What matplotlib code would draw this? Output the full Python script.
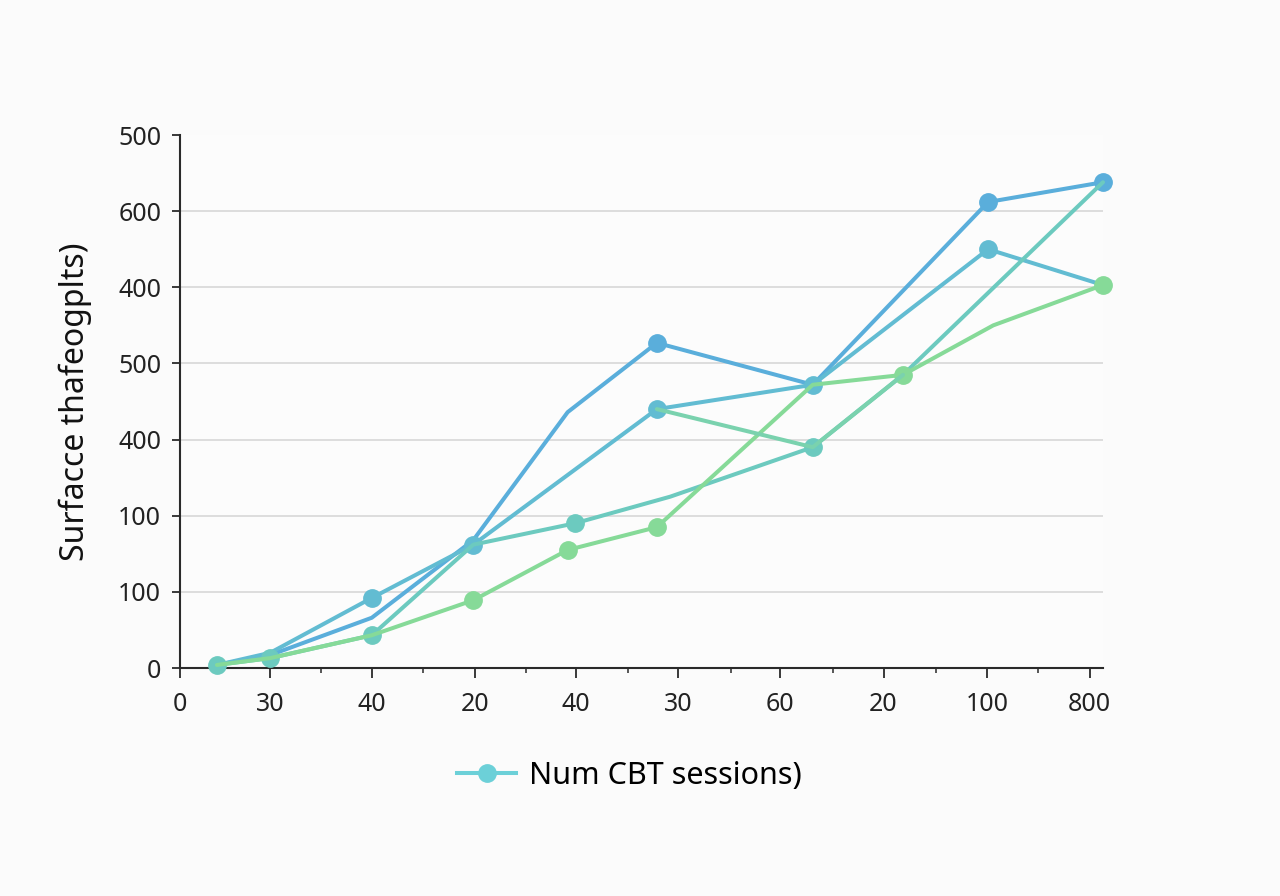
import matplotlib
matplotlib.use("Agg")
from matplotlib import pyplot as plt
from matplotlib.lines import Line2D

# Axis tick layout (labels as printed in the chart)
x_tick_pos = [0, 0.88, 1.87, 2.88, 3.86, 4.86, 5.85, 6.86, 7.87, 8.87]
x_tick_labels = ["0", "30", "40", "20", "40", "30", "60", "20", "100", "800"]
x_minor_pos = [0.37, 1.37, 2.37, 3.37, 4.37, 5.37, 6.37, 7.37, 8.37]
y_tick_pos = [0, 100, 200, 300, 400, 500, 600, 700]
y_tick_labels = ["0", "100", "100", "400", "500", "400", "600", "500"]

# Series values
a_x = [0.36, 0.88, 1.87, 2.86, 3.78, 4.65, 6.17, 7.88, 9.0]
a_y = [4, 17, 66, 168, 336, 427, 372, 612, 638]
a_marks = [5, 7, 8]

b_x = [0.36, 0.88, 1.87, 2.86, 4.65, 6.17, 7.88, 9.0]
b_y = [4, 20, 92, 162, 340, 372, 550, 503]
b_marks = [2, 3, 4, 5, 6]

c_x = [0.36, 0.88, 1.87, 2.86, 3.85, 4.78, 6.17, 7.05, 9.0]
c_y = [4, 13, 43, 162, 190, 225, 290, 385, 638]
c_marks = [0, 1, 2, 4, 6]

d_x = [0.36, 0.88, 1.87, 2.86, 3.78, 4.65, 6.17, 7.05, 7.93, 9.0]
d_y = [4, 13, 43, 89, 155, 185, 372, 385, 450, 503]
d_marks = [3, 4, 5, 7, 9]

e_x = [4.65, 6.17, 7.05]
e_y = [340, 290, 385]

series = [
    (a_x, a_y, a_marks, "#5aaedb"),
    (b_x, b_y, b_marks, "#62bcd2"),
    (c_x, c_y, c_marks, "#6ccabf"),
    (d_x, d_y, d_marks, "#86da98"),
    (e_x, e_y, [], "#7ad2ae"),
]

plt.rcParams["font.family"] = ["Noto Sans", "DejaVu Sans"]

fig = plt.figure(figsize=(12.8, 8.96), dpi=100, facecolor="#fbfbfb")
ax = fig.add_axes([180 / 1280, 1 - 668 / 896, (1103 - 180) / 1280, (668 - 135) / 896])
ax.set_facecolor("#fcfcfc")

for xs, ys, marks, col in series:
    ax.plot(xs, ys, color=col, lw=2.9, marker="o", markevery=marks if marks else None,
            markersize=12.5 if marks else 0, solid_capstyle="round", clip_on=False, zorder=3)

ax.set_xlim(0, 9.0)
ax.set_ylim(0, 700)

ax.set_xticks(x_tick_pos)
ax.set_xticklabels(x_tick_labels)
ax.set_xticks(x_minor_pos, minor=True)
ax.set_yticks(y_tick_pos)
ax.set_yticklabels(y_tick_labels)

# gridlines except the top one
for yv in y_tick_pos[1:-1]:
    ax.axhline(yv, color="#d4d4d4", lw=1.1, zorder=1)

for s in ["top", "right"]:
    ax.spines[s].set_visible(False)
for s in ["left", "bottom"]:
    ax.spines[s].set_color("#2a2a2a")
    ax.spines[s].set_linewidth(1.5)

ax.tick_params(axis="x", which="major", length=7, width=1.3, color="#2a2a2a",
               labelsize=18, labelcolor="#222222", pad=10)
ax.tick_params(axis="x", which="minor", length=3.5, width=1.1, color="#2a2a2a")
ax.tick_params(axis="y", length=5.5, width=1.3, color="#2a2a2a",
               labelsize=18, labelcolor="#222222", pad=8)

ax.set_ylabel("Surfacce thafeogplts)", fontsize=23, color="#111111", labelpad=19)

handle = Line2D([], [], color="#6cd0d8", lw=2.9, marker="o", markersize=12.5)
fig.legend([handle], ["Num CBT sessions)"], loc="center", bbox_to_anchor=(0.492, 0.134),
           frameon=False, fontsize=22, handlelength=1.9, handletextpad=0.45)

fig.savefig("out.png", dpi=100, facecolor=fig.get_facecolor())
